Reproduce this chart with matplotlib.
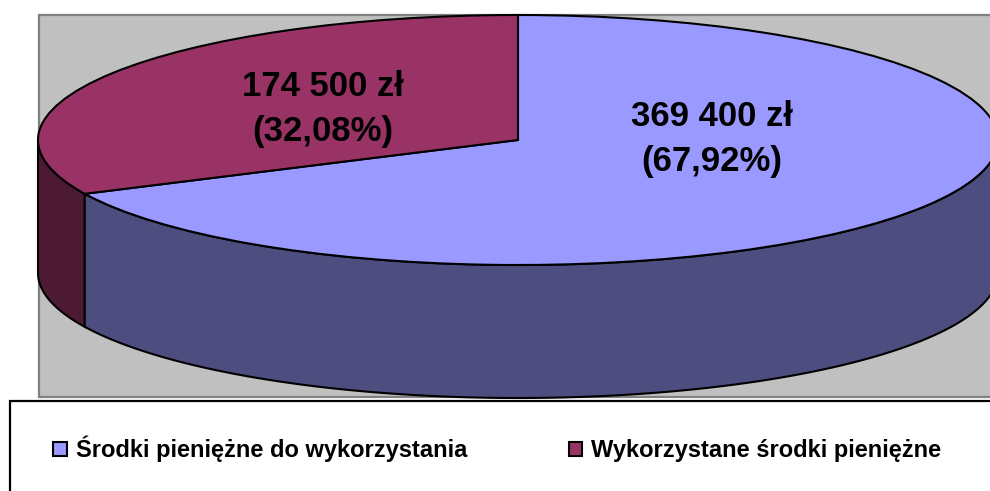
"""Pseudo-3D pie of used and available funds."""

import matplotlib

matplotlib.use("Agg")
import matplotlib.pyplot as plt
import numpy as np
from matplotlib.patches import Rectangle

plt.rcParams["font.family"] = ["Liberation Sans", "DejaVu Sans"]

categories = ["Środki pieniężne do wykorzystania", "Wykorzystane środki pieniężne"]
amounts = [369400, 174500]
value_labels = ["369 400 zł\n(67,92%)", "174 500 zł\n(32,08%)"]

COLORS = {
    "top": ["#9999FF", "#993366"],
    "side": ["#4D4D80", "#4D1A33"],
    "plot": "#C0C0C0",
    "plot_edge": "#808080",
}

# pie geometry, in pixels of the 990x491 picture
WIDTH, HEIGHT = 990, 491
CX, CY = 518, 140
RX, RY = 480, 125
DEPTH = 133


fig = plt.figure(figsize=(WIDTH / 100, HEIGHT / 100), dpi=100, facecolor="white")

# background layer in pixel coordinates
bg = fig.add_axes([0, 0, 1, 1], zorder=0)
bg.set_xlim(0, WIDTH)
bg.set_ylim(HEIGHT, 0)
bg.axis("off")
bg.add_patch(Rectangle((38.5, 14.5), 1000, 382, facecolor=COLORS["plot"],
                       edgecolor=COLORS["plot_edge"], linewidth=1.6))
bg.add_patch(Rectangle((10, 400.5), 1100, 200, facecolor="white",
                       edgecolor="black", linewidth=1.6, zorder=3))

# pie layer, one data unit is one radius of the ellipse
ax = fig.add_axes([0, 0, 1, 1], zorder=1)
wedges, _ = ax.pie(
    amounts,
    colors=COLORS["top"],
    startangle=90,
    counterclock=False,
    wedgeprops={"edgecolor": "black", "linewidth": 1.5},
    radius=1,
)
for wedge in wedges:
    wedge.set_zorder(3)
ax.set_aspect("auto")
ax.set_xlim(-CX / RX, (WIDTH - CX) / RX)
ax.set_ylim((CY - HEIGHT) / RY, CY / RY)
ax.patch.set_alpha(0)
ax.axis("off")

# side wall, split where the boundary between the slices reaches the front
share = amounts[0] / sum(amounts)
split = np.sin(2 * np.pi * share)
depth = DEPTH / RY
for side, lo, hi in ((COLORS["side"][1], -1, split), (COLORS["side"][0], split, 1)):
    u = np.linspace(lo, hi, 300)
    upper = -np.sqrt(1 - u**2)
    ax.fill(
        np.r_[u, u[::-1]],
        np.r_[upper, upper[::-1] - depth],
        facecolor=side,
        edgecolor="black",
        linewidth=1.5,
        zorder=2,
    )

for label, (x, y) in zip(value_labels, [(712, 139), (323, 109)]):
    ax.text(x, y, label, transform=bg.transData, ha="center", va="center",
            fontsize=25, fontweight="bold", color="black", linespacing=1.45,
            zorder=5)

ax.legend(
    wedges,
    categories,
    ncol=2,
    loc="center left",
    bbox_to_anchor=(53, 449),
    bbox_transform=bg.transData,
    frameon=False,
    prop={"size": 17, "weight": "bold"},
    handlelength=0.58,
    handleheight=0.58,
    handletextpad=0.38,
    columnspacing=4.3,
    borderpad=0,
    borderaxespad=0,
)

fig.savefig("out.png", dpi=100)
